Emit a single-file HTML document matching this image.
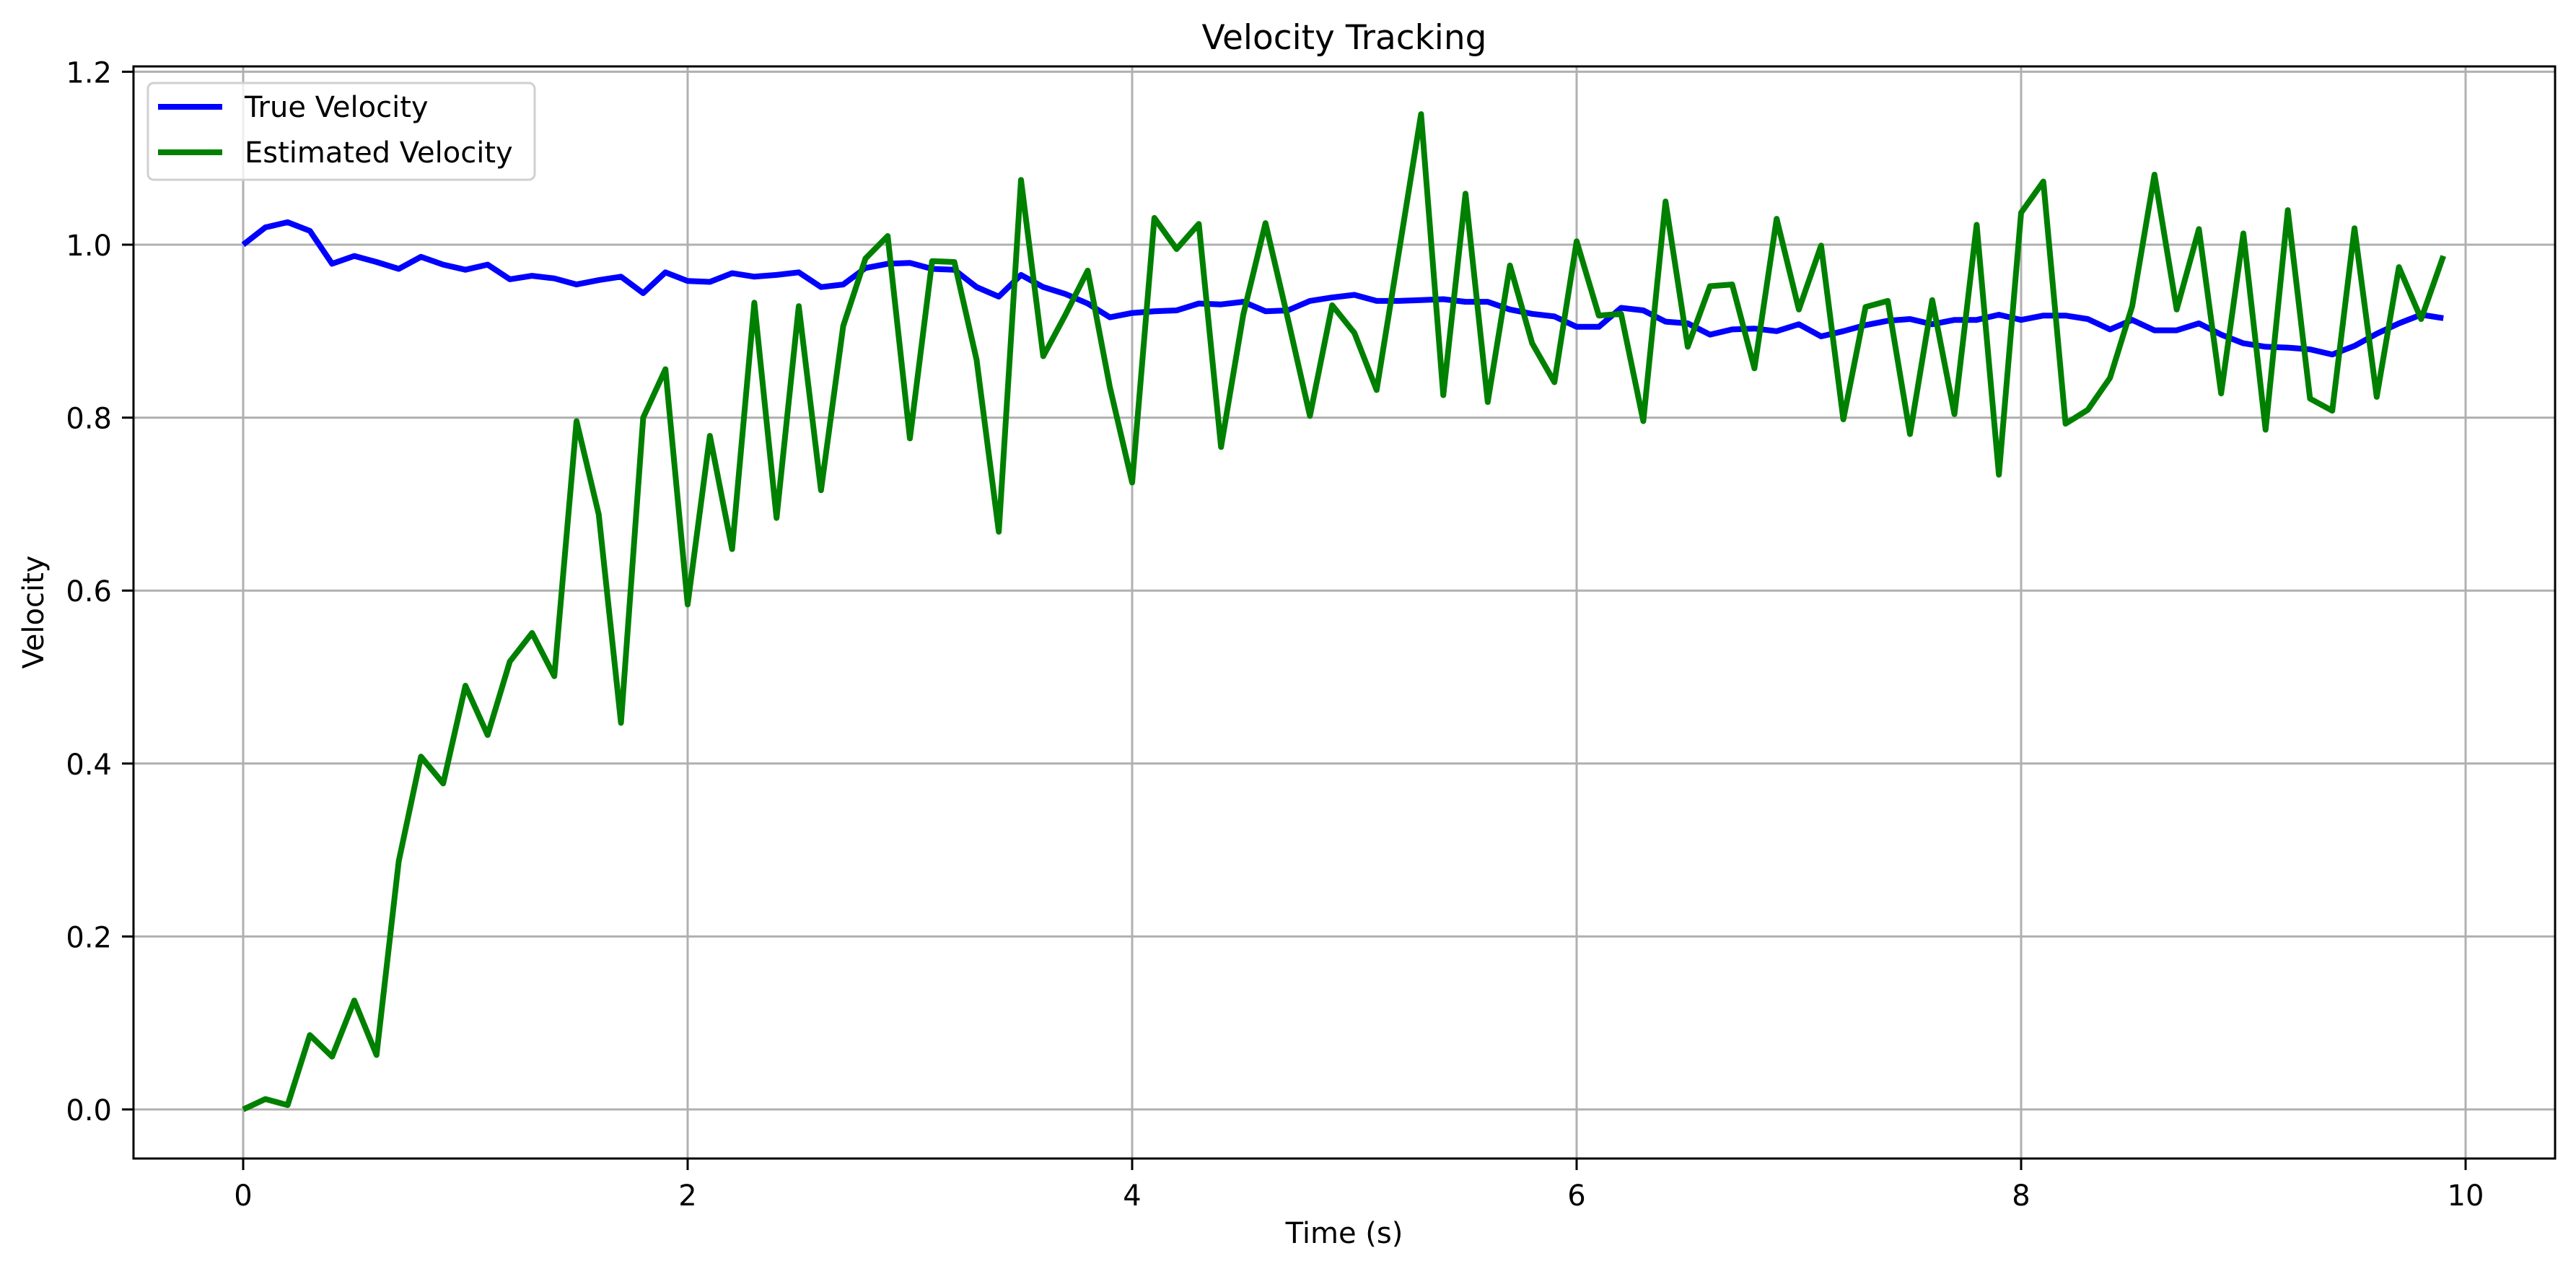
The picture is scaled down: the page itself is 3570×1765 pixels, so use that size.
<!DOCTYPE html>
<html><head><meta charset="utf-8"><style>
html,body{margin:0;padding:0;background:#fff;}
svg{display:block;font-family:"DejaVu Sans","Liberation Sans",sans-serif;}
</style></head><body>
<svg id="chart" width="3570" height="1765" viewBox="0 0 3570 1765" xmlns="http://www.w3.org/2000/svg">
<rect width="3570" height="1765" fill="#fff"/>
<g id="grid"></g>
<g id="series"></g>
<rect x="185" y="92" width="3356" height="1513" fill="none" stroke="#000" stroke-width="3"/>
<g id="ticks"></g>
<text x="1863" y="68" font-size="47" text-anchor="middle">Velocity Tracking</text>
<text x="1863" y="1722" font-size="40" text-anchor="middle">Time (s)</text>
<text x="0" y="0" font-size="40" text-anchor="middle" transform="translate(60,848) rotate(-90)">Velocity</text>
<g>
<rect x="205" y="115" width="536" height="134" rx="8" fill="#fff" fill-opacity="0.8" stroke="#d0d0d0" stroke-width="3"/>
<line x1="219" y1="148" x2="308" y2="148" stroke="#0000ff" stroke-width="8"/>
<text x="339" y="162" font-size="40">True Velocity</text>
<line x1="219" y1="211" x2="308" y2="211" stroke="#008000" stroke-width="8"/>
<text x="339" y="225" font-size="40">Estimated Velocity</text>
</g>
</svg>
<script>
const times = Array.from({length:100},(_,i)=>i/10);
const trueVelocity = [1.0,1.020,1.026,1.016,0.978,0.987,0.980,0.972,0.986,0.977,
0.971,0.977,0.960,0.964,0.961,0.954,0.959,0.963,0.944,0.968,
0.958,0.957,0.967,0.963,0.965,0.968,0.951,0.954,0.973,0.978,
0.979,0.972,0.971,0.951,0.940,0.965,0.951,0.943,0.932,0.916,
0.921,0.923,0.924,0.932,0.931,0.934,0.923,0.924,0.935,0.939,
0.942,0.935,0.935,0.936,0.937,0.934,0.934,0.925,0.920,0.917,
0.905,0.905,0.927,0.924,0.911,0.909,0.896,0.902,0.903,0.900,
0.908,0.894,0.900,0.907,0.912,0.914,0.908,0.913,0.913,0.919,
0.913,0.918,0.918,0.914,0.902,0.913,0.901,0.901,0.909,0.896,
0.886,0.882,0.881,0.879,0.873,0.883,0.897,0.909,0.919,0.915];
const estimatedVelocity = [0.0,0.012,0.005,0.086,0.061,0.126,0.063,0.287,0.408,0.377,
0.490,0.433,0.518,0.551,0.501,0.796,0.688,0.447,0.800,0.856,
0.584,0.779,0.648,0.933,0.684,0.929,0.716,0.906,0.984,1.010,
0.776,0.981,0.980,0.867,0.668,1.075,0.871,0.919,0.970,0.835,
0.725,1.031,0.995,1.024,0.766,0.919,1.025,0.915,0.802,0.930,
0.898,0.832,0.991,1.151,0.826,1.059,0.818,0.976,0.886,0.841,
1.004,0.918,0.920,0.796,1.050,0.882,0.952,0.954,0.857,1.030,
0.925,0.999,0.798,0.928,0.935,0.781,0.936,0.804,1.023,0.734,
1.037,1.073,0.793,0.809,0.846,0.929,1.081,0.925,1.018,0.828,
1.013,0.786,1.040,0.822,0.808,1.019,0.824,0.974,0.914,0.987];
const xTicks = [0,2,4,6,8,10];
const yTicks = [0.0,0.2,0.4,0.6,0.8,1.0,1.2];

const X0=337, XS=308, Y0=1537, YS=1198;
const AL=185, AR=3541, AT=92, AB=1605;
const sx = v => X0 + v*XS;
const sy = v => Y0 - v*YS;
const NS="http://www.w3.org/2000/svg";
function mk(tag, attrs, parent){const e=document.createElementNS(NS,tag);for(const k in attrs)e.setAttribute(k,attrs[k]);parent.appendChild(e);return e;}
const grid=document.getElementById('grid'), ticks=document.getElementById('ticks'), series=document.getElementById('series');
xTicks.forEach(t=>{
  const x=sx(t);
  const g=mk('line',{x1:x,y1:AT,x2:x,y2:AB,stroke:'#b0b0b0','stroke-width':3},grid);
  
  
  const tk=mk('line',{x1:x,y1:AB,x2:x,y2:AB+16,stroke:'#000','stroke-width':3},ticks);
  
  
  const lb=mk('text',{x:x,y:1670,'font-size':40,'text-anchor':'middle'},ticks);
  lb.textContent=String(t);
  
  
});
yTicks.forEach(t=>{
  const y=sy(t);
  const g=mk('line',{x1:AL,y1:y,x2:AR,y2:y,stroke:'#b0b0b0','stroke-width':3},grid);
  
  
  const tk=mk('line',{x1:AL-16,y1:y,x2:AL,y2:y,stroke:'#000','stroke-width':3},ticks);
  
  
  const lb=mk('text',{x:155,y:y+15,'font-size':40,'text-anchor':'end'},ticks);
  lb.textContent=t.toFixed(1);
  
  
});
function pts(arr){return arr.map((v,i)=>sx(times[i]).toFixed(1)+','+sy(v).toFixed(1)).join(' ');}
const pt=mk('polyline',{points:pts(trueVelocity),fill:'none',stroke:'#0000ff','stroke-width':8,'stroke-linejoin':'round'},series);


const pe=mk('polyline',{points:pts(estimatedVelocity),fill:'none',stroke:'#008000','stroke-width':8,'stroke-linejoin':'round'},series);


</script>
</body></html>
